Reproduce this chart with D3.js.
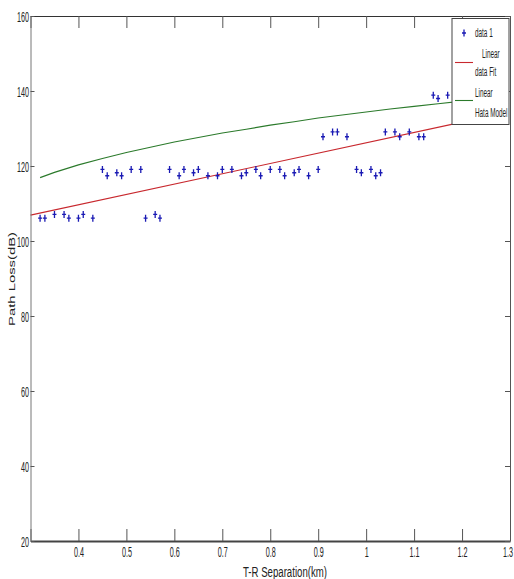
<!DOCTYPE html>
<html>
<head>
<meta charset="utf-8">
<script src="https://cdn.jsdelivr.net/npm/d3@7"></script>
<style>
  body { margin: 0; background: #fff; }
  text { font-family: "Liberation Sans", Arial, sans-serif; fill: #222; }
</style>
</head>
<body>
<div id="chart"></div>
<script>
// measured path loss vs T-R separation
var distance = [0.32, 0.33, 0.35, 0.37, 0.38, 0.40, 0.41, 0.43, 0.45, 0.46, 0.48, 0.49, 0.51, 0.53,
    0.54, 0.56, 0.57, 0.59, 0.61, 0.62, 0.64, 0.65, 0.67, 0.69, 0.70, 0.72, 0.74, 0.75, 0.77, 0.78,
    0.80, 0.82, 0.83, 0.85, 0.86, 0.88, 0.90, 0.91, 0.93, 0.94, 0.96, 0.98, 0.99, 1.01, 1.02, 1.03,
    1.04, 1.06, 1.07, 1.09, 1.11, 1.12, 1.14, 1.15, 1.17];
var pathLoss = [106.1, 106.1, 107.1, 107.1, 106.1, 106.1, 107.1, 106.1, 119.1, 117.4, 118.2, 117.4,
    119.1, 119.1, 106.1, 107.1, 106.1, 119.1, 117.4, 119.1, 118.2, 119.1, 117.4, 117.4, 119.1, 119.1,
    117.4, 118.2, 119.1, 117.4, 119.1, 119.1, 117.4, 118.2, 119.1, 117.4, 119.1, 127.8, 129.1, 129.1,
    127.8, 119.1, 118.2, 119.1, 117.4, 118.2, 129.1, 129.1, 127.8, 129.1, 127.8, 127.8, 138.9, 138.0,
    138.9];

// linear data fit
var fitX = [0.3, 1.2];
var fitY = [106.9, 131.7];

// hata model
var hataX = [0.32, 0.35, 0.40, 0.45, 0.50, 0.55, 0.60, 0.65, 0.70, 0.75, 0.80, 0.85, 0.90, 0.95,
    1.00, 1.05, 1.10, 1.15, 1.20];
var hataY = [116.9, 118.3, 120.3, 122.0, 123.6, 125.0, 126.4, 127.6, 128.8, 129.8, 130.9, 131.8,
    132.8, 133.6, 134.4, 135.2, 135.9, 136.6, 137.3];

var xTicks = [0.3, 0.4, 0.5, 0.6, 0.7, 0.8, 0.9, 1.0, 1.1, 1.2, 1.3];
var xTickLabels = ["", "0.4", "0.5", "0.6", "0.7", "0.8", "0.9", "1", "1.1", "1.2", "1.3"];
var yTicks = [20, 40, 60, 80, 100, 120, 140, 160];
var yTickLabels = ["20", "40", "60", "80", "100", "120", "140", "160"];

var margin = { left: 30.5, right: 4, top: 16, bottom: 38 };
var width = 514 - margin.left - margin.right,
    height = 579 - margin.top - margin.bottom;

var svg = d3.select("#chart")
    .append("svg")
    .attr("width", 514)
    .attr("height", 579);

var xScale = d3.scaleLinear().domain([0.3, 1.3]).range([0, width]);
var yScale = d3.scaleLinear().domain([20, 160]).range([height, 0]);

var g = svg.append("g")
    .attr("transform", "translate(" + margin.left + "," + margin.top + ")");

//axes, matlab style ticks pointing inside
var xAxis = d3.axisBottom(xScale).tickValues(xTicks)
    .tickFormat(function (d, i) { return xTickLabels[i]; })
    .tickSizeInner(-12).tickSizeOuter(0).tickPadding(5);
var xAxisTop = d3.axisTop(xScale).tickValues(xTicks).tickFormat("")
    .tickSizeInner(-12).tickSizeOuter(0);
var yAxis = d3.axisLeft(yScale).tickValues(yTicks)
    .tickFormat(function (d, i) { return yTickLabels[i]; })
    .tickSizeInner(-4).tickSizeOuter(0).tickPadding(3);
var yAxisRight = d3.axisRight(yScale).tickValues(yTicks).tickFormat("")
    .tickSizeInner(-5).tickSizeOuter(0);

//lines
var line = d3.line()
    .x(function (d) { return xScale(d[0]); })
    .y(function (d) { return yScale(d[1]); });

g.append("path")
    .attr("d", line(d3.zip(hataX, hataY)))
    .attr("fill", "none")
    .attr("stroke", "#2b7a2b")
    .attr("stroke-width", 1.1);

g.append("path")
    .attr("d", line(d3.zip(fitX, fitY)))
    .attr("fill", "none")
    .attr("stroke", "#c8282e")
    .attr("stroke-width", 1.1);

//data points as "+" markers
var plus = "M0,-3.5V3.5M-2,0H2";
g.selectAll(".pt")
    .data(d3.zip(distance, pathLoss))
    .enter().append("path")
    .attr("class", "pt")
    .attr("transform", function (d) {
        return "translate(" + xScale(d[0]) + "," + yScale(d[1]) + ")";
    })
    .attr("d", plus)
    .attr("fill", "none")
    .attr("stroke", "#1a1ab4")
    .attr("stroke-width", 1.3);

var gx = g.append("g").attr("transform", "translate(0," + height + ")").call(xAxis);
var gxt = g.append("g").call(xAxisTop);
var gy = g.append("g").call(yAxis);
var gyr = g.append("g").attr("transform", "translate(" + width + ",0)").call(yAxisRight);

gx.select(".domain").attr("stroke", "#444").attr("stroke-width", 2);
gxt.select(".domain").attr("stroke", "#333");
gy.select(".domain").attr("stroke", "#777");
gyr.select(".domain").attr("stroke", "#555");
g.selectAll(".tick line").attr("stroke", "#555");

g.selectAll(".tick text")
    .attr("font-size", 15)
    .attr("fill", "#333")
    .attr("transform", "scale(0.48,1)");
gy.selectAll(".tick text").attr("dy", "0.36em");
// last label sits at the window edge, keep it inside
gx.selectAll(".tick text").filter(function (d) { return d === 1.3; })
    .attr("x", -5);

//axis labels
svg.append("text")
    .attr("x", 285)
    .attr("y", 577)
    .attr("text-anchor", "middle")
    .attr("font-size", 14)
    .attr("fill", "#333")
    .attr("textLength", 84)
    .attr("lengthAdjust", "spacingAndGlyphs")
    .text("T-R Separation(km)");

svg.append("text")
    .attr("transform", "translate(15,279) rotate(-90)")
    .attr("text-anchor", "middle")
    .attr("font-size", 8.5)
    .attr("fill", "#333")
    .attr("textLength", 94)
    .attr("lengthAdjust", "spacingAndGlyphs")
    .text("Path Loss(dB)");

//legend
var legend = svg.append("g");
legend.append("rect")
    .attr("x", 452).attr("y", 18.5)
    .attr("width", 57).attr("height", 106)
    .attr("fill", "#fff")
    .attr("stroke", "#444");

legend.append("path")
    .attr("transform", "translate(464,33)")
    .attr("d", plus)
    .attr("fill", "none")
    .attr("stroke", "#1a1ab4")
    .attr("stroke-width", 1.3);
legend.append("line")
    .attr("x1", 455).attr("x2", 473).attr("y1", 62.5).attr("y2", 62.5)
    .attr("stroke", "#c8282e").attr("stroke-width", 1.1);
legend.append("line")
    .attr("x1", 455).attr("x2", 473).attr("y1", 100.5).attr("y2", 100.5)
    .attr("stroke", "#2b7a2b").attr("stroke-width", 1.1);

var legendText = [
    { t: "data 1", x: 475, y: 37 },
    { t: "Linear", x: 482, y: 58 },
    { t: "data Fit", x: 475, y: 76 },
    { t: "Linear", x: 475, y: 97 },
    { t: "Hata Model", x: 475, y: 117 }
];
legend.selectAll(".lt")
    .data(legendText)
    .enter().append("text")
    .attr("class", "lt")
    .attr("transform", function (d) { return "translate(" + d.x + "," + d.y + ") scale(0.53,1)"; })
    .attr("font-size", 12)
    .attr("fill", "#333")
    .text(function (d) { return d.t; });
</script>
</body>
</html>
